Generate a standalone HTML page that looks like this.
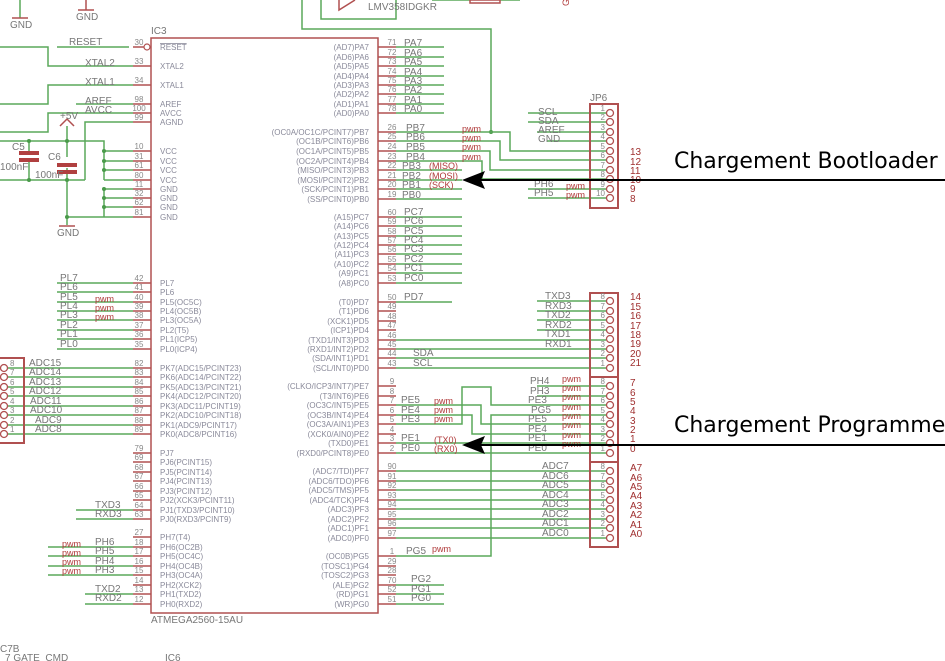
<!DOCTYPE html>
<html><head><meta charset="utf-8"><style>
html,body{margin:0;padding:0;background:#fff;}
svg{display:block;font-family:"Liberation Sans",sans-serif;}
.g{stroke:#5aa85a;stroke-width:1.5;fill:none}
.r{stroke:#b05050;stroke-width:1.5;fill:none}
.t{fill:#8a8a9a;font-size:8px}
.n{fill:#777;font-size:10px}
.p{fill:#b03a3a;font-size:9px}
.pn{fill:#888;font-size:8px}
.rn{fill:#a03030;font-size:10px}
</style></head><body>
<svg width="945" height="661" viewBox="0 0 945 661" xmlns="http://www.w3.org/2000/svg">
<g class="g">
<path d="M20 0V18M302 0V29H491V132"/>
<path d="M321 0V19H396V0"/>
<path d="M432 0H470M500 0H520"/>
</g>
<g class="r"><path d="M86 0V10M78 10H94M20 18M12 18H28M339 0L339 10L355 0"/><path d="M470 0H500V3H470Z"/></g>
<text x="10" y="28" class="n" font-size="9">GND</text>
<text x="76" y="20" class="n" font-size="9">GND</text>
<text x="368" y="10" class="n" font-size="9">LMV358IDGKR</text>
<text x="569" y="6" class="p" transform="rotate(-90 569 6)">G</text>
<rect x="151" y="38" width="227" height="575" class="r"/>
<text x="151" y="34" class="n">IC3</text>
<text x="151" y="623" class="n" font-size="9">ATMEGA2560-15AU</text>
<g class="g">
<path d="M0 47H48V66H133M57 47H129"/>
<path d="M0 104H48V85H133M76 104H133"/>
<path d="M0 132H48V113H133M85 180V122H133M0 180H85"/>
<path d="M0 141H104V180M104 151H133M104 161H133M104 170H133M104 180H133"/>
<path d="M29 141V151M29 162V180M67 141V157M67 168V180M67 126V141M67 180V217"/>
<path d="M104 189V217H67M104 189H133M104 198H133M104 207H133M104 217H133M67 217V225"/>
</g>
<g fill="#b04040"><rect x="19" y="151" width="20" height="4"/><rect x="19" y="158" width="20" height="4"/><rect x="57" y="163" width="20" height="4"/><rect x="57" y="170" width="20" height="4"/></g>
<path d="M60 126L67 119L74 126" class="r"/>
<path d="M59 226H75" class="r"/>
<g fill="#4a9a4a"><circle cx="29" cy="141" r="2"/><circle cx="67" cy="141" r="2"/><circle cx="29" cy="180" r="2"/><circle cx="67" cy="180" r="2"/><circle cx="104" cy="151" r="2"/><circle cx="104" cy="161" r="2"/><circle cx="104" cy="170" r="2"/><circle cx="104" cy="189" r="2"/><circle cx="104" cy="198" r="2"/><circle cx="104" cy="207" r="2"/><circle cx="67" cy="217" r="2"/><circle cx="491" cy="132" r="2"/></g>
<circle cx="147" cy="47" r="3" fill="#fff" stroke="#b05050" stroke-width="1.2"/>
<text x="60" y="119" class="n" font-size="9">+5V</text>
<text x="12" y="150" class="n" font-size="9">C5</text>
<text x="0" y="170" class="n" font-size="9">100nF</text>
<text x="48" y="160" class="n" font-size="9">C6</text>
<text x="35" y="178" class="n" font-size="9">100nF</text>
<text x="57" y="236" class="n" font-size="9">GND</text>
<text x="69" y="45" class="n">RESET</text>
<text x="85" y="66" class="n">XTAL2</text>
<text x="85" y="85" class="n">XTAL1</text>
<text x="85" y="104" class="n">AREF</text>
<text x="85" y="113" class="n">AVCC</text>
<g class="r"><path d="M133 47H144M133 66H151M133 85H151M133 104H151M133 113H151M133 122H151M133 151H151M133 161H151M133 170H151M133 180H151M133 189H151M133 198H151M133 207H151M133 217H151
M133 283H151M133 292H151M133 302H151M133 311H151M133 320H151M133 330H151M133 339H151M133 349H151
M133 368H151M133 377H151M133 387H151M133 396H151M133 406H151M133 415H151M133 425H151M133 434H151
M133 453H151M133 462H151M133 472H151M133 481H151M133 491H151M133 500H151M133 510H151M133 519H151
M133 537H151M133 547H151M133 556H151M133 566H151M133 575H151M133 585H151M133 594H151M133 604H151"/></g>
<g class="pn" text-anchor="middle">
<text x="139" y="45">30</text><text x="139" y="64">33</text><text x="139" y="83">34</text><text x="139" y="102">98</text><text x="139" y="111">100</text><text x="139" y="120">99</text>
<text x="139" y="149">10</text><text x="139" y="159">31</text><text x="139" y="168">61</text><text x="139" y="178">80</text><text x="139" y="187">11</text><text x="139" y="196">32</text><text x="139" y="205">62</text><text x="139" y="215">81</text>
<text x="139" y="281">42</text><text x="139" y="290">41</text><text x="139" y="300">40</text><text x="139" y="309">39</text><text x="139" y="318">38</text><text x="139" y="328">37</text><text x="139" y="337">36</text><text x="139" y="347">35</text>
<text x="139" y="366">82</text><text x="139" y="375">83</text><text x="139" y="385">84</text><text x="139" y="394">85</text><text x="139" y="404">86</text><text x="139" y="413">87</text><text x="139" y="423">88</text><text x="139" y="432">89</text>
<text x="139" y="451">79</text><text x="139" y="460">69</text><text x="139" y="470">68</text><text x="139" y="479">67</text><text x="139" y="489">66</text><text x="139" y="498">65</text><text x="139" y="508">64</text><text x="139" y="517">63</text>
<text x="139" y="535">27</text><text x="139" y="545">18</text><text x="139" y="554">17</text><text x="139" y="564">16</text><text x="139" y="573">15</text><text x="139" y="583">14</text><text x="139" y="592">13</text><text x="139" y="602">12</text>
</g>
<g class="t">
<text x="160" y="50" text-decoration="overline">RESET</text><text x="160" y="69">XTAL2</text><text x="160" y="88">XTAL1</text><text x="160" y="107">AREF</text><text x="160" y="116">AVCC</text><text x="160" y="125">AGND</text>
<text x="160" y="154">VCC</text><text x="160" y="164">VCC</text><text x="160" y="173">VCC</text><text x="160" y="183">VCC</text><text x="160" y="192">GND</text><text x="160" y="201">GND</text><text x="160" y="210">GND</text><text x="160" y="220">GND</text>
<text x="160" y="286">PL7</text><text x="160" y="295">PL6</text><text x="160" y="305">PL5(OC5C)</text><text x="160" y="314">PL4(OC5B)</text><text x="160" y="323">PL3(OC5A)</text><text x="160" y="333">PL2(T5)</text><text x="160" y="342">PL1(ICP5)</text><text x="160" y="352">PL0(ICP4)</text>
<text x="160" y="371">PK7(ADC15/PCINT23)</text><text x="160" y="380">PK6(ADC14/PCINT22)</text><text x="160" y="390">PK5(ADC13/PCINT21)</text><text x="160" y="399">PK4(ADC12/PCINT20)</text><text x="160" y="409">PK3(ADC11/PCINT19)</text><text x="160" y="418">PK2(ADC10/PCINT18)</text><text x="160" y="428">PK1(ADC9/PCINT17)</text><text x="160" y="437">PK0(ADC8/PCINT16)</text>
<text x="160" y="456">PJ7</text><text x="160" y="465">PJ6(PCINT15)</text><text x="160" y="475">PJ5(PCINT14)</text><text x="160" y="484">PJ4(PCINT13)</text><text x="160" y="494">PJ3(PCINT12)</text><text x="160" y="503">PJ2(XCK3/PCINT11)</text><text x="160" y="513">PJ1(TXD3/PCINT10)</text><text x="160" y="522">PJ0(RXD3/PCINT9)</text>
<text x="160" y="540">PH7(T4)</text><text x="160" y="550">PH6(OC2B)</text><text x="160" y="559">PH5(OC4C)</text><text x="160" y="569">PH4(OC4B)</text><text x="160" y="578">PH3(OC4A)</text><text x="160" y="588">PH2(XCK2)</text><text x="160" y="597">PH1(TXD2)</text><text x="160" y="607">PH0(RXD2)</text>
</g>
<g class="g"><path d="M57 283H133M57 292H133M57 302H133M57 311H133M57 320H133M57 330H133M57 339H133M57 349H133
M8 368H133M8 377H133M8 387H133M8 396H133M8 406H133M8 415H133M8 425H133M8 434H133
M76 510H133M76 519H133M48 547H133M48 556H133M48 566H133M48 575H133M85 594H133M85 604H133"/></g>
<g class="n">
<text x="60" y="281">PL7</text><text x="60" y="290">PL6</text><text x="60" y="300">PL5</text><text x="60" y="309">PL4</text><text x="60" y="318">PL3</text><text x="60" y="328">PL2</text><text x="60" y="337">PL1</text><text x="60" y="347">PL0</text>
<text x="29" y="366">ADC15</text><text x="29" y="375">ADC14</text><text x="29" y="385">ADC13</text><text x="29" y="394">ADC12</text><text x="30" y="404">ADC11</text><text x="30" y="413">ADC10</text><text x="35" y="423">ADC9</text><text x="35" y="432">ADC8</text>
<text x="95" y="508">TXD3</text><text x="95" y="517">RXD3</text>
<text x="95" y="545">PH6</text><text x="95" y="554">PH5</text><text x="95" y="564">PH4</text><text x="95" y="573">PH3</text>
<text x="95" y="592">TXD2</text><text x="95" y="601">RXD2</text>
</g>
<g class="p"><text x="95" y="302">pwm</text><text x="95" y="311">pwm</text><text x="95" y="320">pwm</text>
<text x="62" y="547">pwm</text><text x="62" y="556">pwm</text><text x="62" y="565">pwm</text><text x="62" y="574">pwm</text></g>
<rect x="-5" y="358" width="29" height="85" class="r" style="stroke-width:2"/>
<g fill="#fff" stroke="#b05050" stroke-width="1.3">
<circle cx="4" cy="368" r="3.5"/><circle cx="4" cy="377" r="3.5"/><circle cx="4" cy="387" r="3.5"/><circle cx="4" cy="396" r="3.5"/><circle cx="4" cy="406" r="3.5"/><circle cx="4" cy="415" r="3.5"/><circle cx="4" cy="425" r="3.5"/><circle cx="4" cy="434" r="3.5"/></g>
<g class="pn"><text x="10" y="366">8</text><text x="10" y="375">7</text><text x="10" y="385">6</text><text x="10" y="394">5</text><text x="10" y="404">4</text><text x="10" y="413">3</text><text x="10" y="423">2</text><text x="10" y="432">1</text></g>
<g class="r"><path d="M378 47H396M378 57H396M378 66H396M378 76H396M378 85H396M378 94H396M378 104H396M378 113H396
M378 132H396M378 141H396M378 151H396M378 161H396M378 170H396M378 180H396M378 189H396M378 199H396
M378 217H396M378 226H396M378 236H396M378 245H396M378 254H396M378 264H396M378 273H396M378 283H396
M378 302H396M378 311H396M378 321H396M378 330H396M378 340H396M378 349H396M378 358H396M378 368H396
M378 386H396M378 396H396M378 405H396M378 415H396M378 424H396M378 434H396M378 443H396M378 453H396
M378 471H396M378 481H396M378 490H396M378 500H396M378 509H396M378 519H396M378 528H396M378 538H396
M378 556H396M378 566H396M378 575H396M378 585H396M378 594H396M378 604H396"/></g>
<g class="pn" text-anchor="middle">
<text x="392" y="45">71</text><text x="392" y="55">72</text><text x="392" y="64">73</text><text x="392" y="74">74</text><text x="392" y="83">75</text><text x="392" y="92">76</text><text x="392" y="102">77</text><text x="392" y="111">78</text>
<text x="392" y="130">26</text><text x="392" y="139">25</text><text x="392" y="149">24</text><text x="392" y="159">23</text><text x="392" y="168">22</text><text x="392" y="178">21</text><text x="392" y="187">20</text><text x="392" y="197">19</text>
<text x="392" y="215">60</text><text x="392" y="224">59</text><text x="392" y="234">58</text><text x="392" y="243">57</text><text x="392" y="252">56</text><text x="392" y="262">55</text><text x="392" y="271">54</text><text x="392" y="281">53</text>
<text x="392" y="300">50</text><text x="392" y="309">49</text><text x="392" y="319">48</text><text x="392" y="328">47</text><text x="392" y="338">46</text><text x="392" y="347">45</text><text x="392" y="356">44</text><text x="392" y="366">43</text>
<text x="392" y="384">9</text><text x="392" y="394">8</text><text x="392" y="403">7</text><text x="392" y="413">6</text><text x="392" y="422">5</text><text x="392" y="432">4</text><text x="392" y="441">3</text><text x="392" y="451">2</text>
<text x="392" y="469">90</text><text x="392" y="479">91</text><text x="392" y="488">92</text><text x="392" y="498">93</text><text x="392" y="507">94</text><text x="392" y="517">95</text><text x="392" y="526">96</text><text x="392" y="536">97</text>
<text x="392" y="554">1</text><text x="392" y="564">29</text><text x="392" y="573">28</text><text x="392" y="583">70</text><text x="392" y="592">52</text><text x="392" y="602">51</text>
</g>
<g class="t" text-anchor="end">
<text x="369" y="50">(AD7)PA7</text><text x="369" y="60">(AD6)PA6</text><text x="369" y="69">(AD5)PA5</text><text x="369" y="79">(AD4)PA4</text><text x="369" y="88">(AD3)PA3</text><text x="369" y="97">(AD2)PA2</text><text x="369" y="107">(AD1)PA1</text><text x="369" y="116">(AD0)PA0</text>
<text x="369" y="135">(OC0A/OC1C/PCINT7)PB7</text><text x="369" y="144">(OC1B/PCINT6)PB6</text><text x="369" y="154">(OC1A/PCINT5)PB5</text><text x="369" y="164">(OC2A/PCINT4)PB4</text><text x="369" y="173">(MISO/PCINT3)PB3</text><text x="369" y="183">(MOSI/PCINT2)PB2</text><text x="369" y="192">(SCK/PCINT1)PB1</text><text x="369" y="202">(SS/PCINT0)PB0</text>
<text x="369" y="220">(A15)PC7</text><text x="369" y="229">(A14)PC6</text><text x="369" y="239">(A13)PC5</text><text x="369" y="248">(A12)PC4</text><text x="369" y="257">(A11)PC3</text><text x="369" y="267">(A10)PC2</text><text x="369" y="276">(A9)PC1</text><text x="369" y="286">(A8)PC0</text>
<text x="369" y="305">(T0)PD7</text><text x="369" y="314">(T1)PD6</text><text x="369" y="324">(XCK1)PD5</text><text x="369" y="333">(ICP1)PD4</text><text x="369" y="343">(TXD1/INT3)PD3</text><text x="369" y="352">(RXD1/INT2)PD2</text><text x="369" y="361">(SDA/INT1)PD1</text><text x="369" y="371">(SCL/INT0)PD0</text>
<text x="369" y="389">(CLKO/ICP3/INT7)PE7</text><text x="369" y="399">(T3/INT6)PE6</text><text x="369" y="408">(OC3C/INT5)PE5</text><text x="369" y="418">(OC3B/INT4)PE4</text><text x="369" y="427">(OC3A/AIN1)PE3</text><text x="369" y="437">(XCK0/AIN0)PE2</text><text x="369" y="446">(TXD0)PE1</text><text x="369" y="456">(RXD0/PCINT8)PE0</text>
<text x="369" y="474">(ADC7/TDI)PF7</text><text x="369" y="484">(ADC6/TDO)PF6</text><text x="369" y="493">(ADC5/TMS)PF5</text><text x="369" y="503">(ADC4/TCK)PF4</text><text x="369" y="512">(ADC3)PF3</text><text x="369" y="522">(ADC2)PF2</text><text x="369" y="531">(ADC1)PF1</text><text x="369" y="541">(ADC0)PF0</text>
<text x="369" y="559">(OC0B)PG5</text><text x="369" y="569">(TOSC1)PG4</text><text x="369" y="578">(TOSC2)PG3</text><text x="369" y="588">(ALE)PG2</text><text x="369" y="597">(RD)PG1</text><text x="369" y="607">(WR)PG0</text>
</g>
<g class="g"><path d="M396 47H444M396 57H444M396 66H444M396 76H444M396 85H444M396 94H444M396 104H444M396 113H444
M396 132H510V151H606M396 141H500V160H606M396 151H490V170H606M396 161H482V179H606M396 170H462M396 180H462M396 189H462M396 199H462
M528 113H606M528 122H606M537 132H606M547 141H606M528 189H606M528 198H606
M396 217H462M396 226H462M396 236H462M396 245H462M396 254H462M396 264H462M396 273H462M396 283H462M396 302H452
M537 301H606M537 311H606M537 320H606M537 330H606M396 340H606M396 349H606M396 358H606M396 368H606
M537 386H606M537 396H606M396 424H462V387H491V405H606M396 405H481V424H606M396 415H472V434H606M396 556H491V415H606M396 443H606M396 453H606
M396 471H606M396 481H606M396 490H606M396 500H606M396 509H606M396 519H606M396 528H606M396 538H606
M396 585H444M396 594H444M396 604H444"/></g>
<g class="n">
<text x="404" y="46">PA7</text><text x="404" y="56">PA6</text><text x="404" y="65">PA5</text><text x="404" y="75">PA4</text><text x="404" y="84">PA3</text><text x="404" y="93">PA2</text><text x="404" y="103">PA1</text><text x="404" y="112">PA0</text>
<text x="406" y="131">PB7</text><text x="406" y="140">PB6</text><text x="406" y="150">PB5</text><text x="406" y="160">PB4</text><text x="402" y="169">PB3</text><text x="402" y="179">PB2</text><text x="402" y="188">PB1</text><text x="402" y="198">PB0</text>
<text x="404" y="215">PC7</text><text x="404" y="224">PC6</text><text x="404" y="234">PC5</text><text x="404" y="243">PC4</text><text x="404" y="252">PC3</text><text x="404" y="262">PC2</text><text x="404" y="271">PC1</text><text x="404" y="281">PC0</text>
<text x="404" y="300">PD7</text><text x="413" y="356">SDA</text><text x="413" y="366">SCL</text>
<text x="401" y="403">PE5</text><text x="401" y="413">PE4</text><text x="401" y="422">PE3</text><text x="401" y="441">PE1</text><text x="401" y="451">PE0</text>
<text x="406" y="554">PG5</text><text x="411" y="582">PG2</text><text x="411" y="592">PG1</text><text x="411" y="601">PG0</text>
<text x="538" y="115">SCL</text><text x="538" y="124">SDA</text><text x="538" y="133">AREF</text><text x="538" y="142">GND</text>
<text x="534" y="187">PH6</text><text x="534" y="196">PH5</text>
<text x="545" y="299">TXD3</text><text x="545" y="309">RXD3</text><text x="545" y="318">TXD2</text><text x="545" y="328">RXD2</text><text x="545" y="337">TXD1</text><text x="545" y="347">RXD1</text>
<text x="530" y="384">PH4</text><text x="530" y="394">PH3</text><text x="528" y="403">PE3</text><text x="531" y="413">PG5</text><text x="528" y="422">PE5</text><text x="528" y="432">PE4</text><text x="528" y="441">PE1</text><text x="528" y="451">PE0</text>
<text x="542" y="469">ADC7</text><text x="542" y="479">ADC6</text><text x="542" y="488">ADC5</text><text x="542" y="498">ADC4</text><text x="542" y="507">ADC3</text><text x="542" y="517">ADC2</text><text x="542" y="526">ADC1</text><text x="542" y="536">ADC0</text>
</g>
<g class="p">
<text x="462" y="132">pwm</text><text x="462" y="141">pwm</text><text x="462" y="150">pwm</text><text x="462" y="160">pwm</text>
<text x="429" y="169">(MISO)</text><text x="429" y="179">(MOSI)</text><text x="429" y="188">(SCK)</text>
<text x="566" y="189">pwm</text><text x="566" y="198">pwm</text>
<text x="434" y="404">pwm</text><text x="434" y="413">pwm</text><text x="434" y="422">pwm</text><text x="434" y="443">(TX0)</text><text x="434" y="452">(RX0)</text><text x="432" y="552">pwm</text>
<text x="562" y="382">pwm</text><text x="562" y="391">pwm</text><text x="562" y="400">pwm</text><text x="562" y="410">pwm</text><text x="562" y="419">pwm</text><text x="562" y="428">pwm</text><text x="562" y="438">pwm</text><text x="562" y="447">pwm</text>
</g>
<g class="r" style="stroke-width:2"><rect x="590" y="104" width="28" height="104"/><rect x="590" y="293" width="28" height="84"/><rect x="590" y="377" width="28" height="85"/><rect x="590" y="462" width="28" height="85"/></g>
<g fill="#fff" stroke="#b05050" stroke-width="1.3">
<circle cx="610" cy="113" r="3.5"/><circle cx="610" cy="122" r="3.5"/><circle cx="610" cy="132" r="3.5"/><circle cx="610" cy="141" r="3.5"/><circle cx="610" cy="151" r="3.5"/><circle cx="610" cy="160" r="3.5"/><circle cx="610" cy="170" r="3.5"/><circle cx="610" cy="179" r="3.5"/><circle cx="610" cy="189" r="3.5"/><circle cx="610" cy="198" r="3.5"/>
<circle cx="610" cy="301" r="3.5"/><circle cx="610" cy="311" r="3.5"/><circle cx="610" cy="320" r="3.5"/><circle cx="610" cy="330" r="3.5"/><circle cx="610" cy="339" r="3.5"/><circle cx="610" cy="349" r="3.5"/><circle cx="610" cy="358" r="3.5"/><circle cx="610" cy="368" r="3.5"/>
<circle cx="610" cy="386" r="3.5"/><circle cx="610" cy="396" r="3.5"/><circle cx="610" cy="405" r="3.5"/><circle cx="610" cy="415" r="3.5"/><circle cx="610" cy="424" r="3.5"/><circle cx="610" cy="434" r="3.5"/><circle cx="610" cy="443" r="3.5"/><circle cx="610" cy="453" r="3.5"/>
<circle cx="610" cy="471" r="3.5"/><circle cx="610" cy="481" r="3.5"/><circle cx="610" cy="490" r="3.5"/><circle cx="610" cy="500" r="3.5"/><circle cx="610" cy="509" r="3.5"/><circle cx="610" cy="519" r="3.5"/><circle cx="610" cy="528" r="3.5"/><circle cx="610" cy="538" r="3.5"/>
</g>
<text x="590" y="101" class="n" font-size="9">JP6</text>
<g class="pn" text-anchor="end">
<text x="605" y="111">1</text><text x="605" y="120">2</text><text x="605" y="130">3</text><text x="605" y="139">4</text><text x="605" y="149">5</text><text x="605" y="158">6</text><text x="605" y="168">7</text><text x="605" y="177">8</text><text x="605" y="187">9</text><text x="605" y="196">10</text>
<text x="605" y="299">8</text><text x="605" y="309">7</text><text x="605" y="318">6</text><text x="605" y="328">5</text><text x="605" y="337">4</text><text x="605" y="347">3</text><text x="605" y="356">2</text><text x="605" y="366">1</text>
<text x="605" y="384">8</text><text x="605" y="394">7</text><text x="605" y="403">6</text><text x="605" y="413">5</text><text x="605" y="422">4</text><text x="605" y="432">3</text><text x="605" y="441">2</text><text x="605" y="451">1</text>
<text x="605" y="469">8</text><text x="605" y="479">7</text><text x="605" y="488">6</text><text x="605" y="498">5</text><text x="605" y="507">4</text><text x="605" y="517">3</text><text x="605" y="526">2</text><text x="605" y="536">1</text>
</g>
<g class="rn">
<text x="630" y="155">13</text><text x="630" y="165">12</text><text x="630" y="174">11</text><text x="630" y="183">10</text><text x="630" y="192">9</text><text x="630" y="202">8</text>
<text x="630" y="300">14</text><text x="630" y="310">15</text><text x="630" y="319">16</text><text x="630" y="329">17</text><text x="630" y="338">18</text><text x="630" y="347">19</text><text x="630" y="357">20</text><text x="630" y="366">21</text>
<text x="630" y="386">7</text><text x="630" y="396">6</text><text x="630" y="405">5</text><text x="630" y="414">4</text><text x="630" y="424">3</text><text x="630" y="433">2</text><text x="630" y="442">1</text><text x="630" y="452">0</text>
<text x="630" y="471">A7</text><text x="630" y="481">A6</text><text x="630" y="490">A5</text><text x="630" y="499">A4</text><text x="630" y="509">A3</text><text x="630" y="518">A2</text><text x="630" y="528">A1</text><text x="630" y="537">A0</text>
</g>
<g stroke="#000" stroke-width="2" fill="none"><path d="M945 180H480M945 445H480"/></g>
<path d="M462 180L485 171L481 180L485 189Z" fill="#000"/>
<path d="M462 445L485 436L481 445L485 454Z" fill="#000"/>
<text x="674" y="168" font-size="22" fill="#000" style="font-family:'DejaVu Sans',sans-serif">Chargement Bootloader</text>
<text x="674" y="432" font-size="22" fill="#000" style="font-family:'DejaVu Sans',sans-serif">Chargement Programme</text>
<text x="0" y="652" class="n" font-size="9">C7B</text>
<text x="5" y="661" class="n" font-size="8">7   GATE_CMD</text>
<text x="165" y="661" class="n" font-size="8">IC6</text>
</svg>
</body></html>
